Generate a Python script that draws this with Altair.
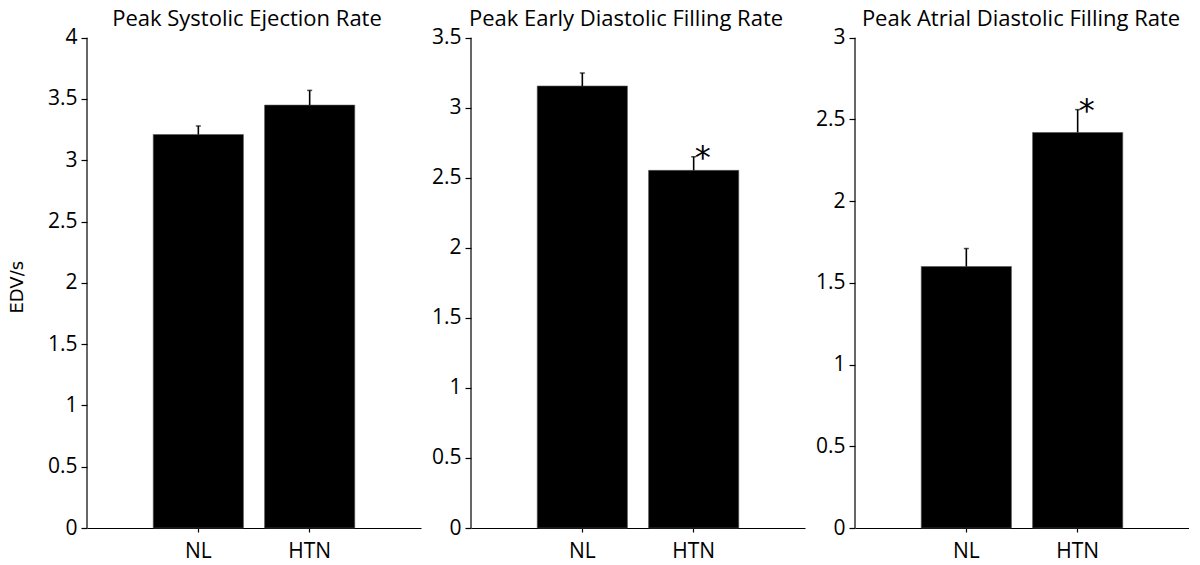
import altair as alt
import pandas as pd
import numpy as np

groups = ["NL", "HTN"]
titles = ["Peak Systolic Ejection Rate", "Peak Early Diastolic Filling Rate", "Peak Atrial Diastolic Filling Rate"]
ymax = [4.0, 3.5, 3.0]
means = [[3.21, 3.45], [3.155, 2.553], [1.60, 2.42]]
uppers = [[3.28, 3.57], [3.248, 2.65], [1.71, 2.56]]
stars = [["", ""], ["", "*"], ["", "*"]]
title_cx = [160, 155, 166]

FONT = "Open Sans"
H = 520          # panel height including headroom for the title
HEAD = 29.7      # headroom above the top tick


def panel(i):
    df = pd.DataFrame({"group": groups, "value": means[i], "upper": uppers[i], "star": stars[i]})
    base = alt.Chart(df)
    top = ymax[i] * H / (H - HEAD)
    x = alt.X("group:N", sort=groups,
              scale=alt.Scale(paddingInner=0.19, paddingOuter=0.595),
              axis=alt.Axis(title=None, labelAngle=0, tickSize=4, labelPadding=8))
    yaxis = alt.Axis(values=[float(v) for v in np.arange(0, ymax[i] + 0.01, 0.5)],
                     format=".1~f", grid=False, tickSize=6, labelPadding=4, domain=False,
                     title="EDV/s" if i == 0 else None,
                     titleFont="DejaVu Sans", titleFontSize=18, titleFontWeight="normal",
                     titleX=-69.5, titleY=249 + HEAD, titleAlign="center",
                     titleBaseline="middle")
    y = alt.Y("value:Q", scale=alt.Scale(domain=[0, top], nice=False, zero=True), axis=yaxis)
    bars = base.mark_bar(color="black", stroke="#555", strokeWidth=0.6).encode(x=x, y=y)
    rule = base.mark_rule(color="black", strokeWidth=1.6).encode(x=x, y="value:Q", y2="upper:Q")
    cap = base.mark_tick(color="black", size=5, thickness=1.5).encode(x=x, y="upper:Q")
    star = base.mark_text(fontSize=32, dx=9, dy=11, baseline="alphabetic", color="black",
                          font="DejaVu Sans").encode(x=x, y="upper:Q", text="star:N")
    axis_line = alt.Chart(pd.DataFrame({"lo": [0.0], "hi": [ymax[i]]})).mark_rule(
        color="black", strokeWidth=1.2
    ).encode(x=alt.value(0), y="lo:Q", y2="hi:Q")
    ttl = alt.Chart(pd.DataFrame({"t": [titles[i]]})).mark_text(
        fontSize=22, font=FONT, color="black", baseline="alphabetic", align="center"
    ).encode(text="t:N", x=alt.value(title_cx[i]), y=alt.value(18))
    return alt.layer(bars, rule, cap, star, axis_line, ttl).properties(width=334, height=H)


chart = alt.hconcat(panel(0), panel(1), panel(2), spacing=50, bounds="flush").properties(
    padding={"left": 0, "top": 0, "right": 0, "bottom": 0}
).configure_view(stroke=None).configure_axis(
    domainColor="black", tickColor="black", labelColor="black", labelFont=FONT,
    labelFontSize=21, titleColor="black", domainWidth=1.2, tickWidth=1.2
)

chart.save("out.html", embed_options={"renderer": "svg", "actions": False})
